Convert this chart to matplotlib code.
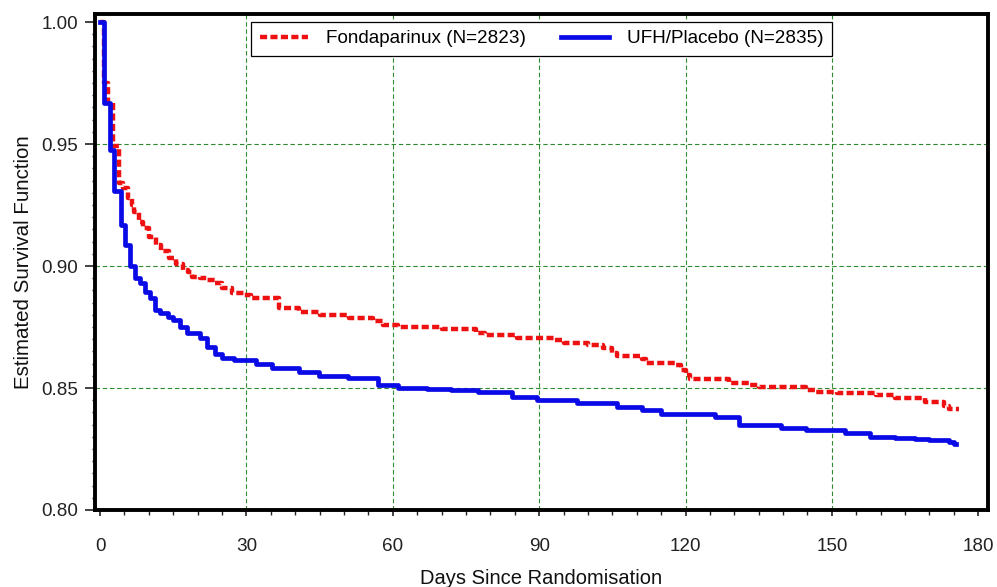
"""
Kaplan-Meier survival curves: Fondaparinux vs UFH/Placebo
"""
import matplotlib
matplotlib.use('Agg')
import matplotlib.pyplot as plt
from matplotlib.ticker import MultipleLocator, FormatStrFormatter

matplotlib.rcParams['font.family'] = ['Liberation Sans', 'DejaVu Sans']

# Fondaparinux (N=2823) - step times (days) and survival after each step
fonda_days = [0, 0.9, 1.7, 2.6, 3.9, 4.7, 5.7, 6.5, 6.9, 8.0, 8.8, 10.0, 11.5,
              12.5, 14.2, 15.5, 17.0, 18.0, 18.8, 20.5, 22.0, 23.5, 25.0,
              27.0, 29.5, 31.0, 36.7, 40.7, 45.0, 51.0, 56.0, 58.0, 61.0,
              70.0, 77.0, 79.0, 85.5, 93.0, 95.0, 100.0, 103.0, 105.0, 106.0,
              111.0, 112.0, 118.0, 119.0, 120.0, 121.0, 129.0, 133.0, 135.0,
              144.6, 146.6, 151.0, 159.0, 163.0, 169.0, 173.0, 174.0, 176.1]
fonda_surv = [1.0, 0.975, 0.967, 0.949, 0.934, 0.932, 0.928, 0.925, 0.922,
              0.918, 0.9156, 0.912, 0.9086, 0.906, 0.9033, 0.901, 0.8985,
              0.8975, 0.8955, 0.895, 0.8943, 0.893, 0.891, 0.889, 0.888, 0.887,
              0.883, 0.881, 0.880, 0.8787, 0.8775, 0.876, 0.875, 0.874, 0.8725,
              0.8717, 0.8705, 0.8697, 0.8684, 0.8676, 0.8664, 0.8643, 0.863,
              0.8619, 0.8602, 0.8594, 0.8574, 0.8553, 0.8537, 0.852, 0.8512,
              0.8504, 0.8492, 0.8484, 0.848, 0.8471, 0.8459, 0.8443, 0.8426,
              0.8414, 0.8414]

# UFH/Placebo (N=2835)
ufh_days = [0, 0.8, 2.0, 2.9, 4.2, 5.1, 6.1, 7.1, 8.1, 9.2, 10.2, 11.2, 12.2,
            14.0, 15.0, 16.3, 17.9, 20.4, 22.0, 23.5, 25.0, 27.5, 32.0, 35.3,
            40.7, 44.8, 50.9, 57.0, 61.0, 67.0, 72.0, 77.4, 84.5, 89.6, 97.7,
            105.9, 111.0, 115.0, 126.0, 131.0, 139.5, 144.6, 152.7, 157.8,
            163.0, 167.0, 170.0, 174.0, 175.1, 175.4]
ufh_surv = [1.0, 0.9668, 0.9475, 0.9307, 0.9168, 0.9086, 0.9000, 0.8951,
            0.8930, 0.8893, 0.8869, 0.8820, 0.8807, 0.8790, 0.8780, 0.8750,
            0.8725, 0.8705, 0.8670, 0.8640, 0.8625, 0.8615, 0.8600, 0.8580,
            0.8566, 0.8550, 0.8541, 0.8512, 0.8500, 0.8496, 0.8490, 0.8482,
            0.8463, 0.8450, 0.8439, 0.8422, 0.8410, 0.8393, 0.8380, 0.8348,
            0.8336, 0.8328, 0.8316, 0.8300, 0.8295, 0.8290, 0.8287, 0.8280,
            0.8270, 0.8270]

x_grid = [30, 60, 90, 120, 150]
y_grid = [0.85, 0.90, 0.95]

fig = plt.figure(figsize=(9.97, 5.87), dpi=100)
ax = fig.add_axes([95 / 997, 1 - 510 / 587, (988 - 95) / 997, (510 - 14) / 587])

grid_color = '#2e8b2e'
for gx in x_grid:
    ax.axvline(gx, color=grid_color, lw=0.8, ls=(0, (4, 2.5)), zorder=1)
for gy in y_grid:
    ax.axhline(gy, color=grid_color, lw=0.8, ls=(0, (4, 2.5)), zorder=1)

ax.step(fonda_days, fonda_surv, where='post', color='#ee1111', lw=3.2,
        ls=(0, (1.6, 0.75)), label='Fondaparinux (N=2823)', zorder=3)
ax.step(ufh_days, ufh_surv, where='post', color='#0a0ae6', lw=3.4,
        label='UFH/Placebo (N=2835)', zorder=4)

# x=0 at ~100 px, x=180 at ~978 px
ax.set_xlim(-1.03, 182.0)
ax.set_ylim(0.80, 1.0033)
ax.xaxis.set_major_locator(MultipleLocator(30))
ax.xaxis.set_minor_locator(MultipleLocator(5))
ax.yaxis.set_major_locator(MultipleLocator(0.05))
ax.yaxis.set_minor_locator(MultipleLocator(0.005))
ax.yaxis.set_major_formatter(FormatStrFormatter('%.2f'))

ax.tick_params(axis='both', which='both', direction='out', color='#222222',
               labelsize=13.6, labelcolor='#222222')
ax.tick_params(axis='y', which='major', length=7, width=1.2, pad=5)
ax.tick_params(axis='y', which='minor', length=2.5, width=1)
ax.tick_params(axis='x', which='major', length=4, width=1.2, pad=16)
ax.tick_params(axis='x', which='minor', length=3.5, width=1)

for side in ['left', 'right', 'top', 'bottom']:
    ax.spines[side].set_linewidth(2.8)
    ax.spines[side].set_color('black')

ax.set_xlabel('Days Since Randomisation', fontsize=14.5, color='#111111', labelpad=10)
ax.set_ylabel('Estimated Survival Function', fontsize=14.8, color='#111111', labelpad=6)

leg = ax.legend(loc='upper center', ncol=2, fontsize=13.6, frameon=True,
                fancybox=False, handlelength=2.55, handletextpad=0.95,
                columnspacing=1.85, borderpad=0.45, borderaxespad=0.4)
leg.get_frame().set_edgecolor('black')
leg.get_frame().set_linewidth(0.9)
leg.get_frame().set_alpha(1.0)

plt.savefig('out.png', dpi=100)
